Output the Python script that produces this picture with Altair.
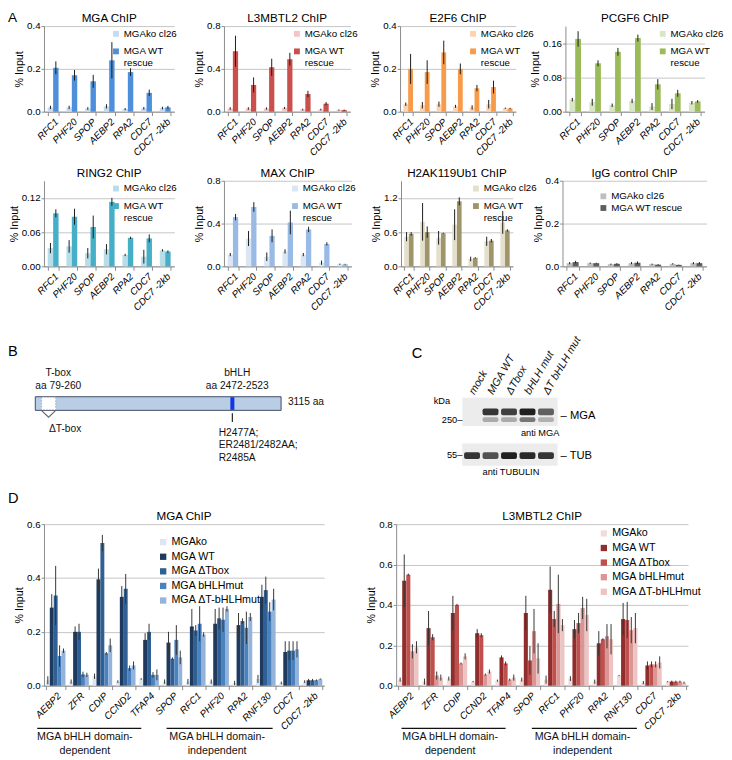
import altair as alt
import pandas as pd

FONT = "Liberation Sans"

# ---------------- Panel A data ----------------
genes_a = ["RFC1", "PHF20", "SPOP", "AEBP2", "RPA2", "CDC7", "CDC7 -2kb"]
series_a = ["MGAko cl26", "MGA WT|rescue"]
series_igg = ["MGAko cl26", "MGA WT rescue"]

mga_ko = [0.020, 0.020, 0.015, 0.025, 0.012, 0.016, 0.017]
mga_ko_err = [0.008, 0.008, 0.006, 0.010, 0.005, 0.006, 0.006]
mga_wt = [0.205, 0.170, 0.142, 0.240, 0.185, 0.088, 0.020]
mga_wt_err = [0.030, 0.025, 0.030, 0.085, 0.018, 0.015, 0.007]

l3_ko = [0.030, 0.030, 0.030, 0.035, 0.020, 0.020, 0.015]
l3_ko_err = [0.012, 0.012, 0.010, 0.010, 0.008, 0.008, 0.006]
l3_wt = [0.565, 0.250, 0.415, 0.490, 0.165, 0.075, 0.015]
l3_wt_err = [0.145, 0.070, 0.080, 0.060, 0.030, 0.015, 0.005]

e2f6_ko = [0.035, 0.030, 0.035, 0.025, 0.020, 0.035, 0.016]
e2f6_ko_err = [0.008, 0.015, 0.012, 0.007, 0.010, 0.020, 0.003]
e2f6_wt = [0.200, 0.185, 0.277, 0.200, 0.110, 0.115, 0.015]
e2f6_wt_err = [0.070, 0.055, 0.055, 0.025, 0.015, 0.030, 0.003]

pcgf6_ko = [0.028, 0.022, 0.015, 0.025, 0.012, 0.018, 0.021]
pcgf6_ko_err = [0.004, 0.008, 0.004, 0.005, 0.008, 0.012, 0.004]
pcgf6_wt = [0.170, 0.113, 0.140, 0.172, 0.064, 0.043, 0.024]
pcgf6_wt_err = [0.018, 0.007, 0.009, 0.008, 0.012, 0.008, 0.003]

ring2_ko = [0.032, 0.035, 0.023, 0.030, 0.020, 0.017, 0.028]
ring2_ko_err = [0.009, 0.011, 0.009, 0.009, 0.002, 0.012, 0.002]
ring2_wt = [0.093, 0.087, 0.069, 0.113, 0.050, 0.049, 0.026]
ring2_wt_err = [0.007, 0.014, 0.020, 0.007, 0.002, 0.007, 0.002]

max_ko = [0.110, 0.260, 0.090, 0.140, 0.110, 0.035, 0.020]
max_ko_err = [0.015, 0.070, 0.040, 0.020, 0.015, 0.020, 0.006]
max_wt = [0.460, 0.555, 0.285, 0.410, 0.345, 0.210, 0.020]
max_wt_err = [0.030, 0.045, 0.060, 0.110, 0.025, 0.015, 0.004]

h2a_ko = [0.52, 0.78, 0.50, 0.73, 0.13, 0.44, 0.77]
h2a_ko_err = [0.08, 0.33, 0.12, 0.27, 0.04, 0.08, 0.20]
h2a_wt = [0.57, 0.60, 0.58, 1.14, 0.15, 0.45, 0.63]
h2a_wt_err = [0.03, 0.10, 0.01, 0.07, 0.01, 0.03, 0.02]

igg_ko = [0.015, 0.015, 0.010, 0.015, 0.010, 0.012, 0.015]
igg_ko_err = [0.005, 0.003, 0.003, 0.005, 0.003, 0.003, 0.005]
igg_wt = [0.020, 0.015, 0.012, 0.017, 0.008, 0.007, 0.015]
igg_wt_err = [0.006, 0.002, 0.003, 0.006, 0.002, 0.001, 0.005]

# ---------------- Panel B data ----------------
protein_len = 3115
tbox_start, tbox_end = 79, 260
bhlh_start, bhlh_end = 2472, 2523

# ---------------- Panel C data ----------------
lanes_c = ["mock", "MGA WT", "\u0394Tbox", "bHLH mut", "\u0394T bHLH mut"]
mga_band = [0.0, 0.85, 0.80, 0.95, 0.65]
mga_band_low = [0.0, 0.30, 0.30, 0.55, 0.28]
tub_band = [0.85, 0.72, 0.95, 0.90, 0.85]

# ---------------- Panel D data ----------------
genes_d = ["AEBP2", "ZFR", "CDIP", "CCND2", "TFAP4", "SPOP", "RFC1", "PHF20",
           "RPA2", "RNF130", "CDC7", "CDC7 -2kb"]
series_d = ["MGAko", "MGA WT", "MGA \u0394Tbox", "MGA bHLHmut", "MGA \u0394T-bHLHmut"]

dm_ko = [0.020, 0.015, 0.035, 0.015, 0.025, 0.015, 0.015, 0.015, 0.010, 0.025, 0.010, 0.015]
dm_ko_err = [0.015, 0.008, 0.010, 0.005, 0.003, 0.008, 0.010, 0.008, 0.008, 0.015, 0.005, 0.005]
dm_wt = [0.290, 0.200, 0.395, 0.330, 0.170, 0.160, 0.220, 0.230, 0.225, 0.330, 0.125, 0.020]
dm_wt_err = [0.050, 0.020, 0.040, 0.040, 0.025, 0.040, 0.065, 0.055, 0.045, 0.045, 0.040, 0.005]
dm_dt = [0.335, 0.200, 0.530, 0.360, 0.200, 0.100, 0.205, 0.250, 0.240, 0.355, 0.130, 0.020]
dm_dt_err = [0.110, 0.030, 0.030, 0.055, 0.030, 0.005, 0.020, 0.040, 0.010, 0.050, 0.035, 0.005]
dm_bm = [0.110, 0.042, 0.120, 0.065, 0.040, 0.170, 0.230, 0.245, 0.215, 0.275, 0.130, 0.020]
dm_bm_err = [0.040, 0.010, 0.005, 0.010, 0.010, 0.055, 0.065, 0.045, 0.060, 0.035, 0.035, 0.003]
dm_dtb = [0.130, 0.040, 0.150, 0.075, 0.040, 0.105, 0.190, 0.285, 0.255, 0.320, 0.135, 0.025]
dm_dtb_err = [0.008, 0.008, 0.025, 0.015, 0.020, 0.025, 0.008, 0.010, 0.015, 0.040, 0.030, 0.002]

dl_ko = [0.030, 0.020, 0.035, 0.020, 0.025, 0.030, 0.030, 0.035, 0.020, 0.050, 0.015, 0.020]
dl_ko_err = [0.010, 0.015, 0.010, 0.003, 0.005, 0.010, 0.020, 0.012, 0.010, 0.003, 0.008, 0.003]
dl_wt = [0.520, 0.285, 0.360, 0.260, 0.140, 0.360, 0.475, 0.280, 0.210, 0.330, 0.100, 0.020]
dl_wt_err = [0.130, 0.085, 0.085, 0.020, 0.010, 0.085, 0.115, 0.045, 0.060, 0.080, 0.020, 0.005]
dl_dt = [0.550, 0.240, 0.400, 0.250, 0.110, 0.125, 0.330, 0.310, 0.230, 0.325, 0.105, 0.020]
dl_dt_err = [0.005, 0.015, 0.005, 0.010, 0.010, 0.070, 0.040, 0.050, 0.005, 0.090, 0.015, 0.005]
dl_bm = [0.170, 0.050, 0.110, 0.055, 0.030, 0.270, 0.405, 0.385, 0.245, 0.275, 0.105, 0.020]
dl_bm_err = [0.035, 0.020, 0.005, 0.005, 0.005, 0.110, 0.145, 0.055, 0.060, 0.065, 0.015, 0.005]
dl_dtb = [0.190, 0.040, 0.145, 0.070, 0.040, 0.135, 0.300, 0.350, 0.230, 0.285, 0.115, 0.015]
dl_dtb_err = [0.030, 0.015, 0.015, 0.010, 0.015, 0.075, 0.030, 0.080, 0.075, 0.075, 0.030, 0.005]


def label_text(txt, x, y, size=15, align="left"):
    return alt.Chart(pd.DataFrame({"t": [txt]})).mark_text(
        fontSize=size, align=align, baseline="middle", color="#000"
    ).encode(text="t:N", x=alt.value(x), y=alt.value(y))


def bar_panel(title, cats, series, values, errors, colors, ymax, step, fmt,
              width, height, leg_x, leg_y, row_pad, leg_font=10, sym=36,
              pad_inner=0.42, pad_outer=0.2, err_color="#1a1a1a", extra=()):
    rows = []
    for s, vals, errs in zip(series, values, errors):
        for g, v, e in zip(cats, vals, errs):
            rows.append({"gene": g, "series": s, "value": v,
                         "lo": max(v - e, 0.0), "hi": v + e})
    df = pd.DataFrame(rows)
    n = int(round(ymax / step))
    ticks = [round(i * step, 6) for i in range(n + 1)]
    x = alt.X("gene:N", sort=cats, title=None,
              scale=alt.Scale(domain=cats, paddingInner=pad_inner, paddingOuter=pad_outer),
              axis=alt.Axis(labelAngle=-45, labelFontStyle="italic", labelFontSize=10,
                            labelColor="#000", domainColor="#8a8a8a", tickColor="#8a8a8a",
                            tickBand="extent", tickSize=4, labelPadding=1,
                            labelOverlap=False, labelLimit=0))
    xo = alt.XOffset("series:N", sort=series,
                     scale=alt.Scale(domain=series, paddingInner=0, paddingOuter=0))
    y = alt.Y("value:Q", scale=alt.Scale(domain=[0, ymax], nice=False, zero=True),
              axis=alt.Axis(values=ticks, format=fmt, title="% Input", titleFontSize=11,
                            titleFontWeight="normal", titleColor="#000", labelColor="#000",
                            labelFontSize=10, gridColor="#c4c4c4", domainColor="#8a8a8a",
                            tickColor="#8a8a8a", tickSize=3, titlePadding=2, labelPadding=1))
    color = alt.Color("series:N", sort=series,
                      scale=alt.Scale(domain=series, range=colors),
                      legend=alt.Legend(title=None, orient="none", legendX=leg_x, legendY=leg_y,
                                        symbolType="square", symbolSize=sym,
                                        symbolStrokeWidth=0, labelFontSize=leg_font,
                                        labelColor="#000", rowPadding=row_pad, padding=0,
                                        labelLimit=0, labelOffset=3,
                                        labelExpr="split(datum.label, '|')"))
    base = alt.Chart(df)
    bars = base.mark_bar().encode(x=x, xOffset=xo, y=y, color=color)
    err = base.mark_rule(color=err_color, strokeWidth=1).encode(
        x=x, xOffset=xo, y="lo:Q", y2="hi:Q")
    ttl = label_text(title, width / 2, -8, size=12, align="center")
    return alt.layer(bars, err, ttl, *extra).properties(width=width, height=height)


HA = 88
c_mga = bar_panel("MGA ChIP", genes_a, series_a, [mga_ko, mga_wt], [mga_ko_err, mga_wt_err],
                  ["#C6DAF1", "#4D8FDA"], 0.4, 0.1, ".1f", 134, HA, 69, 3, 8,
                  extra=[label_text("A", -37, -8, size=14)])
c_l3 = bar_panel("L3MBTL2 ChIP", genes_a, series_a, [l3_ko, l3_wt], [l3_ko_err, l3_wt_err],
                 ["#F2C6C5", "#C9504C"], 0.8, 0.2, ".1f", 130, HA, 70, 3, 8)
c_e2f6 = bar_panel("E2F6 ChIP", genes_a, series_a, [e2f6_ko, e2f6_wt], [e2f6_ko_err, e2f6_wt_err],
                   ["#FAD3B4", "#F79A4A"], 0.4, 0.1, ".1f", 119, HA, 70, 3, 8)
c_pcgf6 = bar_panel("PCGF6 ChIP", genes_a, series_a, [pcgf6_ko, pcgf6_wt], [pcgf6_ko_err, pcgf6_wt_err],
                    ["#D9E6C3", "#9BBB59"], 0.20, 0.04, ".2f", 143, HA, 95, 3, 8)

c_ring2 = bar_panel("RING2 ChIP", genes_a, series_a, [ring2_ko, ring2_wt], [ring2_ko_err, ring2_wt_err],
                    ["#B9DDE8", "#46AFC8"], 0.15, 0.03, ".2f", 134, HA, 69, 3, 8)
c_max = bar_panel("MAX ChIP", genes_a, series_a, [max_ko, max_wt], [max_ko_err, max_wt_err],
                  ["#DAE6F3", "#98BAE5"], 0.8, 0.2, ".1f", 131, HA, 68, 3, 8)
c_h2a = bar_panel("H2AK119Ub1 ChIP", genes_a, series_a, [h2a_ko, h2a_wt], [h2a_ko_err, h2a_wt_err],
                  ["#E3DFCA", "#A0946A"], 1.5, 0.3, ".1f", 115, HA, 72, 3, 8)
c_igg = bar_panel("IgG control ChIP", genes_a, series_igg, [igg_ko, igg_wt], [igg_ko_err, igg_wt_err],
                  ["#BFBFBF", "#5E5E5E"], 0.4, 0.1, ".1f", 148, HA, 37, 11, 2)

# ---------------- Panel B ----------------
HB = 145
xb = alt.Scale(domain=[111.3, 4437], nice=False, zero=False)
b_backbone = alt.Chart(pd.DataFrame({"start": [1], "end": [protein_len]})).mark_rect(
    fill="#B9CDE5", stroke="#3c4a63", strokeWidth=1).encode(
    x=alt.X("start:Q", scale=xb, axis=None), x2="end:Q", y=alt.value(62), y2=alt.value(76))
b_tbox = alt.Chart(pd.DataFrame({"start": [tbox_start], "end": [tbox_end]})).mark_rect(
    fill="#FFFFFF", stroke="#9a9a9a", strokeWidth=0.8, strokeDash=[1.5, 1.5]).encode(
    x=alt.X("start:Q", scale=xb, axis=None), x2="end:Q", y=alt.value(62.5), y2=alt.value(75.5))
b_bhlh = alt.Chart(pd.DataFrame({"start": [bhlh_start], "end": [bhlh_end]})).mark_rect(
    fill="#1136E6").encode(
    x=alt.X("start:Q", scale=xb, axis=None), x2="end:Q", y=alt.value(62.5), y2=alt.value(75.5))
b_vee = alt.Chart(pd.DataFrame({"start": [(tbox_start + tbox_end) / 2]})).mark_point(
    shape="M-1,-0.5L0,0.45L1,-0.5", filled=False, stroke="#222", strokeWidth=1.1, size=190).encode(
    x=alt.X("start:Q", scale=xb, axis=None), y=alt.value(80))
b_tick = alt.Chart(pd.DataFrame({"start": [(bhlh_start + bhlh_end) / 2]})).mark_rule(
    color="#222", strokeWidth=1.2).encode(
    x=alt.X("start:Q", scale=xb, axis=None), y=alt.value(79), y2=alt.value(88))


def b_text(pos, txt, yv, align="center", dx=0):
    return alt.Chart(pd.DataFrame({"start": [pos], "t": [txt]})).mark_text(
        fontSize=10.5, align=align, baseline="top", lineBreak="\n", lineHeight=13,
        dx=dx, color="#111").encode(
        x=alt.X("start:Q", scale=xb, axis=None), y=alt.value(yv), text="t:N")


chart_b = alt.layer(
    b_backbone, b_tbox, b_bhlh, b_vee, b_tick,
    b_text((tbox_start + tbox_end) / 2, "T-box\naa 79-260", 33, dx=10),
    b_text((bhlh_start + bhlh_end) / 2, "bHLH\naa 2472-2523", 33, dx=5),
    b_text(protein_len, "3115 aa", 63, align="left", dx=7),
    b_text((tbox_start + tbox_end) / 2, "\u0394T-box", 90, dx=17),
    b_text((bhlh_start + bhlh_end) / 2, "H2477A;\nER2481/2482AA;\nR2485A", 94, align="left", dx=-14),
    label_text("B", -37, 15),
).properties(width=351, height=HB)

# ---------------- Panel C ----------------
xc = alt.Scale(domain=[-3.526, 7.0], nice=False, zero=False)
df_c = pd.DataFrame({"lane": list(range(len(lanes_c))), "name": lanes_c,
                     "mga": mga_band, "mga2": mga_band_low, "tub": tub_band})
df_c["l0"] = df_c["lane"] - 0.43
df_c["l1"] = df_c["lane"] + 0.43
c_base = alt.Chart(df_c)
blot_bg1 = alt.Chart(pd.DataFrame({"a": [0]})).mark_rect(fill="#ECECEC").encode(
    x=alt.value(57), x2=alt.value(155), y=alt.value(63), y2=alt.value(92))
blot_bg2 = alt.Chart(pd.DataFrame({"a": [0]})).mark_rect(fill="#ECECEC").encode(
    x=alt.value(57), x2=alt.value(155), y=alt.value(110), y2=alt.value(133))
band_mga = c_base.mark_rect(color="#151515", cornerRadius=2).encode(
    x=alt.X("l0:Q", scale=xc, axis=None), x2="l1:Q", y=alt.value(74), y2=alt.value(81),
    opacity=alt.Opacity("mga:Q", scale=None))
band_mga2 = c_base.mark_rect(color="#151515", cornerRadius=2).encode(
    x=alt.X("l0:Q", scale=xc, axis=None), x2="l1:Q", y=alt.value(83), y2=alt.value(88),
    opacity=alt.Opacity("mga2:Q", scale=None))
band_tub = c_base.mark_rect(color="#151515", cornerRadius=2).encode(
    x=alt.X("l0:Q", scale=xc, axis=None), x2="l1:Q", y=alt.value(119), y2=alt.value(126),
    opacity=alt.Opacity("tub:Q", scale=None))
lane_lbl = c_base.mark_text(angle=300, align="left", baseline="middle", fontSize=11,
                            fontStyle="italic", color="#111").encode(
    x=alt.X("lane:Q", scale=xc, axis=None), y=alt.value(59), text="name:N")

chart_c = alt.layer(
    blot_bg1, blot_bg2, band_mga, band_mga2, band_tub, lane_lbl,
    label_text("kDa", 36, 66, size=9.5, align="center"),
    label_text("250\u2013", 57, 86, size=9.5, align="right"),
    label_text("55\u2013", 57, 122, size=9.5, align="right"),
    label_text("\u2013 MGA", 158, 82, size=11.5),
    label_text("\u2013 TUB", 158, 123, size=11.5),
    label_text("anti MGA", 137, 99, size=9.5, align="center"),
    label_text("anti TUBULIN", 107, 139, size=9.5, align="center"),
    label_text("C", 5, 17),
).properties(width=200, height=HB)

# ---------------- Panel D ----------------
HD = 166


def group_layers(cats, groups, height):
    out = []
    for start, end, mid, o1, o2, dx, label in groups:
        out.append(alt.Chart(pd.DataFrame({"gene": [start], "end": [end]})).mark_rule(
            color="#111", strokeWidth=1.3, xOffset=o1, x2Offset=o2).encode(
            x=alt.X("gene:N", sort=cats, title=None), x2="end:N", y=alt.value(height + 44)))
        out.append(alt.Chart(pd.DataFrame({"gene": [mid], "t": [label]})).mark_text(
            fontSize=11, align="center", baseline="top", lineBreak="\n", lineHeight=14,
            dx=dx, color="#111").encode(
            x=alt.X("gene:N", sort=cats, title=None), y=alt.value(height + 47), text="t:N"))
    return out


lbl1 = "MGA bHLH domain-\ndependent"
lbl2 = "MGA bHLH domain-\nindependent"
d_mga = bar_panel("MGA ChIP", genes_d, series_d, [dm_ko, dm_wt, dm_dt, dm_bm, dm_dtb],
                  [dm_ko_err, dm_wt_err, dm_dt_err, dm_bm_err, dm_dtb_err],
                  ["#DCE6F2", "#1F3A5F", "#2F5F93", "#4A81BF", "#93B3DA"],
                  0.6, 0.1, ".1f", 288, HD, 117, 13, 3, leg_font=11, sym=42,
                  pad_inner=0.16, pad_outer=0.08, err_color="#333",
                  extra=group_layers(genes_d, [
                      ("AEBP2", "TFAP4", "CDIP", -19, -8, -18, lbl1),
                      ("SPOP", "RNF130", "PHF20", -6, 7, -2, lbl2)], HD) + [label_text("D", -37, -27)])
d_l3 = bar_panel("L3MBTL2 ChIP", genes_d, series_d, [dl_ko, dl_wt, dl_dt, dl_bm, dl_dtb],
                 [dl_ko_err, dl_wt_err, dl_dt_err, dl_bm_err, dl_dtb_err],
                 ["#F2DCDB", "#8F2E2C", "#C0504D", "#DA9694", "#EBC4C3"],
                 0.8, 0.1, ".1f", 300, HD, 208, 4, 3, leg_font=11, sym=42,
                 pad_inner=0.16, pad_outer=0.08, err_color="#333",
                 extra=group_layers(genes_d, [
                     ("AEBP2", "TFAP4", "CDIP", -7, 0, -7, lbl1),
                     ("SPOP", "RNF130", "PHF20", 2, 10, 4, lbl2)], HD))

RES = dict(color="independent", xOffset="independent", x="independent", y="independent",
           opacity="independent")

row1 = alt.hconcat(c_mga, c_l3, c_e2f6, c_pcgf6, spacing=51, bounds="flush").resolve_scale(**RES)
row2 = alt.hconcat(c_ring2, c_max, c_h2a, c_igg, spacing=51, bounds="flush").resolve_scale(**RES)
row3 = alt.hconcat(chart_b, chart_c, spacing=22, bounds="flush").resolve_scale(**RES)
row4 = alt.hconcat(d_mga, d_l3, spacing=74, bounds="flush").resolve_scale(**RES)

v12 = alt.vconcat(row1, row2, spacing=9).resolve_scale(**RES)
v123 = alt.vconcat(v12, row3, spacing=22).resolve_scale(**RES)
chart = alt.vconcat(v123, row4, spacing=14).resolve_scale(**RES).properties(
    padding={"left": 0, "top": -7, "right": 0, "bottom": 0}
).configure(font=FONT).configure_view(stroke=None)

chart.save("out.html", embed_options={"renderer": "svg", "actions": False})
